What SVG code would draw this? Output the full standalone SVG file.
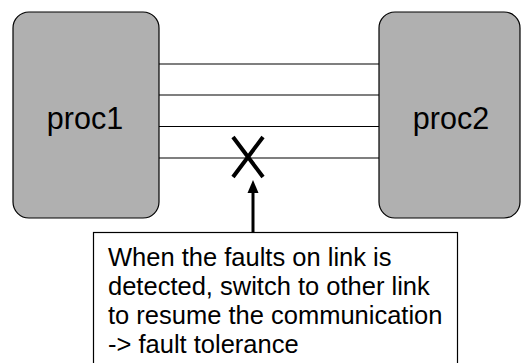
<svg xmlns="http://www.w3.org/2000/svg" width="521" height="363" viewBox="0 0 521 363">
<style>
.proc{fill:#b0b0b0;stroke:#000;stroke-width:1.2}
.lbl{font-family:"Liberation Sans",Arial,sans-serif;fill:#000}
.link{stroke:#000;stroke-width:1.2;fill:none}
</style>
<rect width="521" height="363" fill="#fff"/>
<g id="connectors">
<line class="link" x1="159" y1="64" x2="379" y2="64"/>
<line class="link" x1="159" y1="95" x2="379" y2="95"/>
<line class="link" x1="159" y1="126.5" x2="379" y2="126.5"/>
<line class="link" x1="159" y1="158" x2="379" y2="158"/>
<line x1="253" y1="232" x2="253" y2="192" stroke="#000" stroke-width="3"/>
<path d="M247.5,193 L253,180 L258.5,193 Z" fill="#000"/>
</g>
<g id="fault">
<path d="M233,137 L263,177 M263,137 L233,177" stroke="#000" stroke-width="4" fill="none"/>
</g>
<g id="proc1">
<rect class="proc" x="13" y="12" width="146" height="206" rx="16" ry="16"/>
<text class="lbl" x="85" y="128.5" font-size="30.5" text-anchor="middle">proc1</text>
</g>
<g id="proc2">
<rect class="proc" x="379" y="12" width="141" height="206" rx="16" ry="16"/>
<text class="lbl" x="451" y="128.5" font-size="30.5" text-anchor="middle">proc2</text>
</g>
<g id="note">
<rect x="93.5" y="232.5" width="364" height="150" fill="#fff" stroke="#000" stroke-width="1.2"/>
<text class="lbl" font-size="25.5">
<tspan x="108" y="266">When the faults on link is</tspan>
<tspan x="108" y="295">detected, switch to other link</tspan>
<tspan x="108" y="324">to resume the communication</tspan>
<tspan x="108" y="353">-&gt; fault tolerance</tspan>
</text>
</g>
</svg>
